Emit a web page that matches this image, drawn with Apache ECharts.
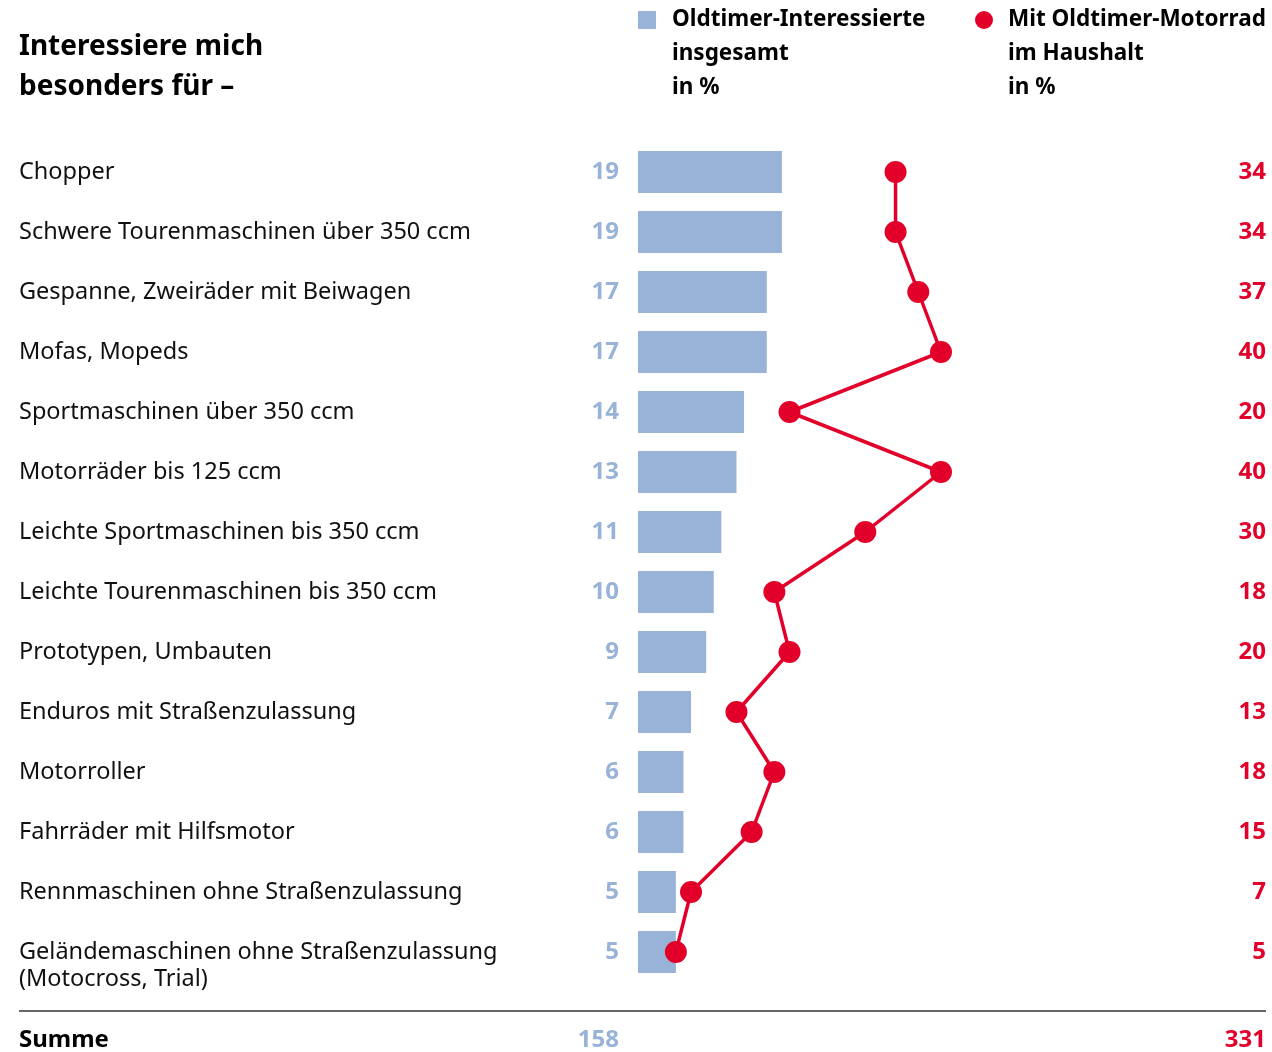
<!DOCTYPE html>
<html>
<head>
<meta charset="utf-8">
<script src="https://cdn.jsdelivr.net/npm/echarts@6/dist/echarts.min.js"></script>
<style>
  html, body { margin: 0; padding: 0; background: #fff; }
  #chart { width: 1272px; height: 1052px; }
</style>
</head>
<body>
<div id="chart"></div>
<script>
// Daten
const categories = [
  'Chopper',
  'Schwere Tourenmaschinen über 350 ccm',
  'Gespanne, Zweiräder mit Beiwagen',
  'Mofas, Mopeds',
  'Sportmaschinen über 350 ccm',
  'Motorräder bis 125 ccm',
  'Leichte Sportmaschinen bis 350 ccm',
  'Leichte Tourenmaschinen bis 350 ccm',
  'Prototypen, Umbauten',
  'Enduros mit Straßenzulassung',
  'Motorroller',
  'Fahrräder mit Hilfsmotor',
  'Rennmaschinen ohne Straßenzulassung',
  'Geländemaschinen ohne Straßenzulassung\n(Motocross, Trial)'
];
const interessierte = [19, 19, 17, 17, 14, 13, 11, 10, 9, 7, 6, 6, 5, 5];
const mitMotorrad = [34, 34, 37, 40, 20, 40, 30, 18, 20, 13, 18, 15, 7, 5];

const BLUE = '#99b3d8';
const RED = '#e2002a';
const FONT = 'Noto Sans';

const sumBlue = interessierte.reduce((a, b) => a + b, 0);
const sumRed = mitMotorrad.reduce((a, b) => a + b, 0);

const chart = echarts.init(document.getElementById('chart'));

// leere Zeilen oben, damit die erste Zeile auf Höhe des Symbols steht
const legendText = {
  fontFamily: FONT, fontSize: 22.5, fontWeight: 'bold', color: '#000',
  lineHeight: 34, padding: [0, 0, 0, 11]
};

const option = {
  animation: false,
  textStyle: { fontFamily: FONT },
  grid: {
    left: 638, top: 142, width: 606, height: 840,
    outerBoundsMode: 'none'
  },
  legend: [
    {
      data: [{ name: 'Oldtimer-Interessierte', icon: 'rect' }],
      left: 638, top: -65, padding: 0,
      itemWidth: 18, itemHeight: 18,
      formatter: n => '\n\n' + n + '\ninsgesamt\nin %',
      textStyle: legendText,
      selectedMode: false
    },
    {
      data: [{ name: 'Mit Oldtimer-Motorrad', icon: 'circle' }],
      left: 975, top: -65, padding: 0,
      itemWidth: 18, itemHeight: 18,
      formatter: n => '\n\n' + n + '\nim Haushalt\nin %',
      textStyle: Object.assign({}, legendText, { padding: [0, 0, 0, 10] }),
      selectedMode: false
    }
  ],
  xAxis: {
    type: 'value', min: 0, max: 80,
    show: false
  },
  yAxis: [
    {
      type: 'category',
      inverse: true,
      data: categories,
      axisLine: { show: false },
      axisTick: { show: false },
      axisLabel: {
        interval: 0,
        align: 'left',
        margin: 619,
        fontFamily: FONT,
        fontSize: 23.5,
        lineHeight: 27,
        color: '#111',
        // zweizeilige Beschriftung: erste Zeile auf Balkenhöhe
        formatter: v => v.indexOf('\n') >= 0 ? '\n' + v : v
      }
    },
    {
      type: 'category',
      inverse: true,
      position: 'right',
      data: categories,
      axisLine: { show: false },
      axisTick: { show: false },
      axisLabel: {
        interval: 0,
        align: 'right',
        margin: 22,
        fontFamily: FONT,
        fontSize: 24,
        fontWeight: 'bold',
        color: RED,
        formatter: (v, i) => String(mitMotorrad[i])
      }
    }
  ],
  series: [
    {
      name: 'Oldtimer-Interessierte',
      type: 'bar',
      data: interessierte,
      barWidth: 42,
      itemStyle: { color: BLUE },
      label: {
        show: true,
        position: 'left',
        distance: 19,
        fontFamily: FONT,
        fontSize: 24,
        fontWeight: 'bold',
        color: BLUE
      }
    },
    {
      name: 'Mit Oldtimer-Motorrad',
      type: 'line',
      data: mitMotorrad,
      symbol: 'circle',
      symbolSize: 22,
      lineStyle: { color: RED, width: 3.5 },
      itemStyle: { color: RED },
      z: 5
    }
  ],
  graphic: [
    {
      type: 'text', left: 19, top: 27,
      style: {
        text: 'Interessiere mich\nbesonders für –',
        fontFamily: FONT, fontSize: 28, fontWeight: 'bold',
        lineHeight: 40, fill: '#000'
      }
    },
    {
      type: 'line',
      shape: { x1: 19, y1: 1011, x2: 1266, y2: 1011 },
      style: { stroke: '#333', lineWidth: 1.5 }
    },
    {
      type: 'text', x: 19, y: 1040,
      style: {
        text: 'Summe', fontFamily: FONT, fontSize: 24, fontWeight: 'bold',
        fill: '#000', verticalAlign: 'middle'
      }
    },
    {
      type: 'text', x: 619, y: 1040,
      style: {
        text: String(sumBlue), fontFamily: FONT, fontSize: 24, fontWeight: 'bold',
        fill: BLUE, align: 'right', verticalAlign: 'middle'
      }
    },
    {
      type: 'text', x: 1266, y: 1040,
      style: {
        text: String(sumRed), fontFamily: FONT, fontSize: 24, fontWeight: 'bold',
        fill: RED, align: 'right', verticalAlign: 'middle'
      }
    }
  ]
};

chart.setOption(option);
</script>
</body>
</html>
